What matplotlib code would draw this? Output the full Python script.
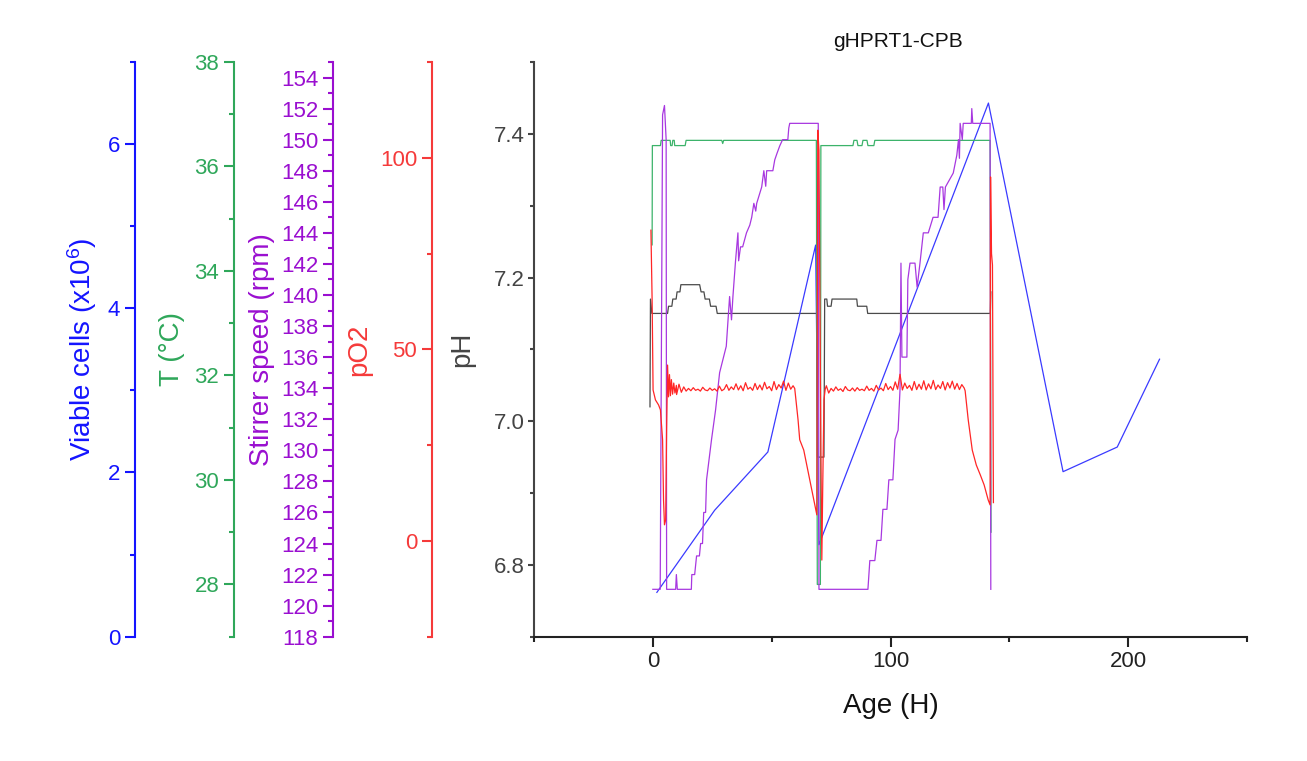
import matplotlib
matplotlib.use('Agg')
import matplotlib.pyplot as plt
from matplotlib.ticker import FixedLocator

plt.rcParams['font.family'] = ['Liberation Sans', 'DejaVu Sans']
plt.rcParams['mathtext.fontset'] = 'custom'
plt.rcParams['mathtext.rm'] = 'Liberation Sans'
plt.rcParams['mathtext.default'] = 'regular'

# ---------------- data ----------------
title = 'gHPRT1-CPB'
x_label = 'Age (H)'

cells_age = [1.7, 26.0, 48.4, 68.5, 69.9, 141.2, 172.6, 195.4, 213.2]
cells_val = [0.54, 1.54, 2.25, 4.77, 1.12, 6.50, 2.01, 2.31, 3.38]

temp_age = [-0.3, -0.2, 3.2, 3.5, 7.3, 7.5, 8.1, 8.4, 9.0, 9.2, 13.6, 14.0, 29.0, 29.4, 29.8,
            68.8, 69.2, 70.5, 70.7, 84.2, 84.6, 85.9, 86.3, 88.0, 88.4, 90.1, 90.5, 93.0, 93.4,
            141.9, 142.3]
temp_val = [34.5, 36.4, 36.4, 36.5, 36.5, 36.4, 36.4, 36.5, 36.5, 36.4, 36.4, 36.5, 36.5, 36.44, 36.5,
            36.5, 28.0, 28.0, 36.4, 36.4, 36.5, 36.5, 36.4, 36.4, 36.5, 36.5, 36.4, 36.4, 36.5,
            36.5, 29.0]

ph_age = [-1.2, -1.0, -0.4, 6.2, 6.6, 8.0, 8.4, 9.8, 10.2, 11.4, 11.8, 19.7, 20.3, 21.5, 22.0,
          23.8, 24.3, 26.6, 27.1, 68.9, 69.3, 72.0, 72.3, 73.2, 73.5, 75.0, 75.4, 85.8, 86.1,
          90.0, 90.4, 142.0, 142.2]
ph_val = [7.02, 7.17, 7.15, 7.15, 7.16, 7.16, 7.17, 7.17, 7.18, 7.18, 7.19, 7.19, 7.18, 7.18, 7.17,
          7.17, 7.16, 7.16, 7.15, 7.15, 6.95, 6.95, 7.17, 7.17, 7.16, 7.16, 7.17, 7.17, 7.16,
          7.16, 7.15, 7.15, 7.18]

stir_age = [0.0, 3.1, 4.1, 4.9, 5.6, 5.8, 9.6, 9.9, 10.3, 16.2, 16.4, 17.6, 18.4, 19.6, 20.1, 20.9,
            21.4, 22.2, 22.6, 24.7, 26.4, 28.1, 30.9, 32.3, 33.1, 33.7, 34.8, 35.8, 36.1, 36.9,
            37.8, 39.4, 40.8, 41.6, 42.5, 43.3, 43.7, 45.8, 46.7, 47.5, 47.9, 50.5, 51.3, 52.2,
            53.4, 54.6, 56.8, 57.2, 57.6, 69.6, 69.9, 90.5, 91.3, 93.4, 94.3, 96.0, 96.8, 98.5,
            99.3, 101.0, 101.9, 103.2, 104.0, 104.4, 104.8, 106.9, 107.3, 108.2, 110.3, 111.2,
            112.4, 113.8, 115.9, 117.9, 120.0, 120.9, 122.0, 122.5, 123.1, 126.4, 127.9, 128.6,
            129.0, 129.3, 130.2, 130.6, 134.0, 134.2, 134.6, 141.9, 142.2]
stir_val = [121.05, 121.05, 151.6, 152.2, 150.0, 121.05, 121.05, 122.0, 121.05, 121.05, 122.0, 122.0,
            123.2, 123.2, 124.0, 124.0, 126.0, 126.0, 128.1, 130.7, 132.6, 135.0, 136.7, 139.9,
            138.4, 139.9, 142.2, 144.0, 142.2, 143.1, 143.1, 144.0, 144.5, 145.0, 145.9, 145.4,
            145.9, 146.95, 148.0, 147.0, 148.0, 148.0, 148.7, 149.1, 149.6, 150.0, 150.0, 150.75,
            151.05, 151.05, 121.05, 121.05, 122.9, 122.9, 124.2, 124.2, 126.2, 126.2, 128.1, 128.1,
            130.7, 131.3, 133.9, 142.05, 136.0, 136.0, 141.0, 142.05, 142.05, 140.5, 142.05, 144.0,
            144.0, 145.0, 145.0, 146.95, 146.95, 145.5, 146.95, 147.85, 149.0, 150.0, 148.8,
            151.05, 150.0, 151.05, 151.05, 152.0, 151.05, 151.05, 121.05]

po2_age = [-0.8, -0.3, 0.1, 1.1, 2.4, 3.2, 4.1, 4.5, 4.9, 5.4, 5.8, 6.2, 6.6, 7.0, 7.4, 7.8, 8.3,
           8.8, 9.3, 9.9,
           10, 11, 12, 13, 14, 15, 16, 17, 18, 19, 20, 21, 22, 23, 24, 25, 26, 27, 28, 29, 30,
           31, 32, 33, 34, 35, 36, 37, 38, 39, 40, 41, 42, 43, 44, 45, 46, 47, 48, 49, 50, 51,
           52, 53, 54, 55, 56, 57, 58, 59, 59.7,
           61.1, 61.8, 63.5, 65.2, 66.9, 68.2, 69.0, 69.4, 69.9, 70.3, 70.7, 71.1, 71.5, 72.0,
           72.5,
           73, 74, 75, 76, 77, 78, 79, 80, 81, 82, 83, 84, 85, 86, 87, 88, 89, 90, 91, 92, 93,
           94, 95, 96, 97, 98, 99, 100, 101, 102, 103, 104, 105, 106, 107, 108, 109, 110, 111,
           112, 113, 114, 115, 116, 117, 118, 119, 120, 121, 122, 123, 124, 125, 126, 127, 128,
           129, 130, 131, 131.4,
           132.7, 134.4, 136.1, 137.8, 139.4, 141.1, 141.9, 142.1, 142.5, 142.9, 143.3]
po2_val = [81.1, 62.8, 39.4, 36.8, 35.5, 34.2, 26.4, 10.7, 4.2, 5.5, 28.9, 45.9, 37.6, 43.4, 37.9,
           42.1, 38.3, 41.2, 38.6, 40.6,
           38.2, 40.9, 38.8, 40.2, 39.1, 39.8, 39.2, 40.0, 39.3, 39.6, 39.1, 40.1, 39.4, 39.2,
           39.9, 39.3, 39.7, 39.1, 40.4, 39.2, 39.6, 40.8, 39.3, 40.2, 39.5, 41.0, 39.4, 40.5,
           39.2, 41.3, 39.6, 40.1, 39.3, 41.1, 39.5, 40.7, 39.4, 41.4, 39.7, 40.3, 39.2, 41.6,
           39.5, 40.8, 39.9, 41.7, 39.3, 41.2, 39.6, 40.5, 39.8,
           31.6, 26.4, 23.7, 18.5, 13.3, 9.4, 6.8, 107.2, 102.0, 62.9, 24.0, -5.0, 15.0, 36.8,
           39.5,
           40.5, 38.6, 39.8, 39.1, 40.2, 39.3, 39.7, 39.0, 40.3, 39.4, 39.2, 39.9, 39.1, 40.0,
           39.3, 39.6, 39.2, 40.4, 39.3, 39.8, 39.1, 40.6, 39.4, 39.9, 39.2, 41.1, 39.5, 40.3,
           39.3, 41.5, 39.6, 43.5, 39.4, 41.2, 39.8, 40.6, 39.3, 41.6, 39.5, 40.9, 39.6, 41.8,
           39.4, 41.0, 39.7, 41.9, 39.5, 40.7, 39.8, 41.6, 39.4, 41.3, 39.9, 41.7, 39.6, 41.1,
           39.5, 40.8, 39.9, 39.2,
           31.6, 23.7, 19.8, 17.2, 14.6, 10.7, 9.4, 95.0, 75.0, 72.0, 10.0]

# ---------------- style ----------------
C_BLUE = '#1414ff'
C_GREEN = '#2fa75a'
C_PURPLE = '#9a0fd0'
C_RED = '#f53a3a'
C_GRAY = '#444444'

L_BLUE = '#3a3aff'
L_GREEN = '#3cb36a'
L_PURPLE = '#a838e0'
L_RED = '#ff2626'
L_BLACK = '#4a4a4a'

TICK_FS = 16
LABEL_FS = 20

fig = plt.figure(figsize=(13.07, 7.61), dpi=100)
fig.patch.set_facecolor('white')
ax = fig.add_axes([0.40857, 0.16334, 0.54553, 0.75519])

ax.set_xlim(-50, 250)
ax.set_ylim(6.7, 7.5)
for s in ['top', 'right']:
    ax.spines[s].set_visible(False)
ax.spines['left'].set_color(C_GRAY)
ax.spines['bottom'].set_color('#222222')
ax.spines['left'].set_linewidth(1.5)
ax.spines['bottom'].set_linewidth(1.5)
ax.xaxis.set_major_locator(FixedLocator([0, 100, 200]))
ax.xaxis.set_minor_locator(FixedLocator([-50, 50, 150, 250]))
ax.yaxis.set_major_locator(FixedLocator([6.8, 7.0, 7.2, 7.4]))
ax.yaxis.set_minor_locator(FixedLocator([6.7, 6.9, 7.1, 7.3, 7.5]))
ax.yaxis.set_major_formatter(plt.FuncFormatter(lambda v, p: f'{v:.1f}'))
ax.tick_params(axis='x', which='major', direction='out', length=7, width=1.5,
               labelsize=TICK_FS, colors='#222222', pad=3.6)
ax.tick_params(axis='x', which='minor', direction='out', length=3.6, width=1.5, colors='#222222')
ax.tick_params(axis='y', which='major', direction='out', length=4.5, width=1.5,
               labelsize=TICK_FS, colors=C_GRAY, pad=2.2)
ax.tick_params(axis='y', which='minor', direction='out', length=3, width=1.5, colors=C_GRAY)
ax.set_xlabel(x_label, fontsize=LABEL_FS, color='#111111', labelpad=15)
ax.set_ylabel('pH', fontsize=LABEL_FS, color=C_GRAY)
ax.yaxis.set_label_coords(-0.083, 0.5)
ax.plot(ph_age, ph_val, color=L_BLACK, lw=0.9, zorder=3)


def make_twin(pos, color, ylim, major, minor, label, label_x, fmt):
    t = ax.twinx()
    t.patch.set_visible(False)
    for s in ['top', 'bottom', 'right']:
        t.spines[s].set_visible(False)
    t.spines['left'].set_visible(True)
    t.spines['left'].set_position(('axes', pos))
    t.spines['left'].set_color(color)
    t.spines['left'].set_linewidth(1.5)
    t.yaxis.set_ticks_position('left')
    t.yaxis.set_label_position('left')
    t.set_ylim(*ylim)
    t.yaxis.set_major_locator(FixedLocator(major))
    t.yaxis.set_minor_locator(FixedLocator(minor))
    t.yaxis.set_major_formatter(plt.FuncFormatter(fmt))
    t.tick_params(axis='y', which='major', direction='out', length=7, width=1.5,
                  labelsize=TICK_FS, colors=color, pad=3.6)
    t.tick_params(axis='y', which='minor', direction='out', length=3.6, width=1.5, colors=color)
    t.set_ylabel(label, fontsize=LABEL_FS, color=color)
    t.yaxis.set_label_coords(label_x, 0.5)
    return t


ax_cells = make_twin(-0.5596, C_BLUE, (0, 7), [0, 2, 4, 6], [1, 3, 5, 7],
                     'Viable cells (x10$^{6}$)', -0.610, lambda v, p: f'{v:.0f}')
ax_temp = make_twin(-0.4208, C_GREEN, (27, 38), [28, 30, 32, 34, 36, 38], [27, 29, 31, 33, 35, 37],
                    'T (°C)', -0.4895, lambda v, p: f'{v:.0f}')
ax_stir = make_twin(-0.2819, C_PURPLE, (118, 155), list(range(118, 155, 2)), list(range(119, 156, 2)),
                    'Stirrer speed (rpm)', -0.3633, lambda v, p: f'{v:.0f}')
ax_po2 = make_twin(-0.1431, C_RED, (-25, 125), [0, 50, 100], [-25, 25, 75, 125],
                   'pO2', -0.2272, lambda v, p: f'{v:.0f}')

ax_temp.plot(temp_age, temp_val, color=L_GREEN, lw=0.9)
ax_po2.plot(po2_age, po2_val, color=L_RED, lw=0.9)
ax_stir.plot(stir_age, stir_val, color=L_PURPLE, lw=0.9)
ax_cells.plot(cells_age, cells_val, color=L_BLUE, lw=0.9)

fig.text(0.687, 0.945, title, fontsize=15, color='#111111', ha='center', va='center')

fig.savefig('out.png', dpi=100, facecolor='white')
